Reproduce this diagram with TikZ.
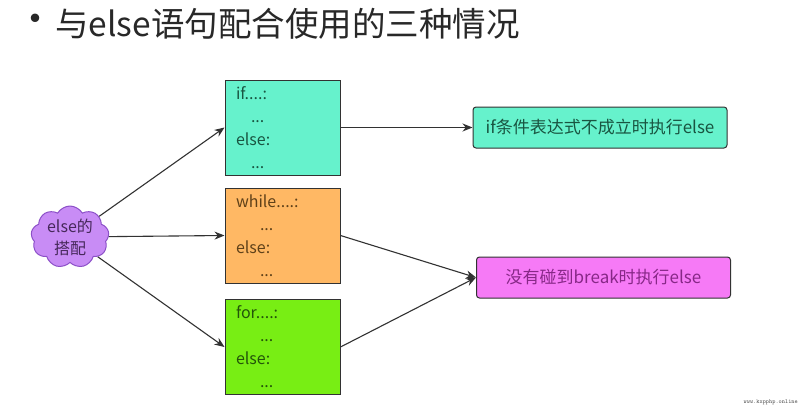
\documentclass[tikz,border=0pt]{standalone}
\usepackage{fontspec}
\setmainfont{Noto Sans CJK SC}
\usetikzlibrary{shapes.symbols,arrows.meta}
\definecolor{aqua}{RGB}{102,242,204}
\definecolor{orng}{RGB}{255,184,100}
\definecolor{grn}{RGB}{120,238,20}
\definecolor{mag}{RGB}{246,122,246}
\definecolor{cloudfill}{RGB}{200,140,245}
\definecolor{cloudline}{RGB}{140,80,200}
\definecolor{edge}{RGB}{50,50,50}
\definecolor{aquatext}{RGB}{25,85,65}
\definecolor{orngtext}{RGB}{95,65,25}
\definecolor{grntext}{RGB}{35,85,10}
\definecolor{magtext}{RGB}{135,40,135}
\definecolor{cloudtext}{RGB}{70,40,90}
\definecolor{titletext}{RGB}{40,40,40}
\tikzset{
  codebox/.style={draw=edge, line width=1pt, minimum width=115pt, minimum height=95pt,
    inner xsep=11pt, inner ysep=0pt, text width=93pt, align=left,
    font=\fontsize{16}{23}\selectfont},
  resbox/.style={draw=edge, line width=1pt, rounded corners=3pt, minimum width=254pt,
    minimum height=41pt, inner sep=0pt, font=\fontsize{17}{20}\selectfont},
  arr/.style={draw=edge, line width=1.1pt, -{Stealth[length=10pt,width=8pt]}},
}
\begin{document}
\begin{tikzpicture}[x=1pt,y=-1pt]
\useasboundingbox[fill=white] (0,0) rectangle (800,408);
% title
\node[text=titletext, font=\fontsize{40}{40}\selectfont, inner sep=0pt] (bul) at (36,24) {•};
\node[anchor=west, text=titletext, inner sep=0pt, font=\fontsize{33.5}{38}\selectfont] (title) at (55,24) {与else语句配合使用的三种情况};
% cloud
\node[cloud, cloud puffs=9, cloud puff arc=120, aspect=1.3, draw=cloudline, line width=1pt,
  fill=cloudfill, minimum width=78pt, minimum height=62pt, inner sep=0pt] (cl) at (70,237) {};
\node[align=center, text=cloudtext, inner sep=0pt, font=\fontsize{16}{22}\selectfont] (clt) at (70,237) {else的\\搭配};
% code boxes
\node[codebox, fill=aqua, text=aquatext] (b1) at (282.5,127.5) {if....:\\\hspace*{15pt}...\\else:\\\hspace*{15pt}...};
\node[codebox, fill=orng, text=orngtext] (b2) at (282.5,235.5) {while....:\\\hspace*{24pt}...\\else:\\\hspace*{24pt}...};
\node[codebox, fill=grn, text=grntext] (b3) at (282.5,347) {for....:\\\hspace*{24pt}...\\else:\\\hspace*{24pt}...};
% result boxes
\node[resbox, fill=aqua, text=aquatext] (r1) at (600,127.5) {if条件表达式不成立时执行else};
\node[resbox, fill=mag, text=magtext] (r2) at (603.5,277.5) {没有碰到break时执行else};
% arrows
\draw[arr] (cl) -- (b1.west);
\draw[arr] (cl) -- (b2.west);
\draw[arr] (cl) -- (b3.west);
\draw[arr] (b1.east) -- (r1.west);
\draw[arr] (b2.east) -- (r2.west);
\draw[arr] (b3.east) -- (r2.west);
% watermark
\node[anchor=east, text=black!70, font=\ttfamily\fontsize{6}{7}\selectfont, inner sep=0pt] (wm) at (798,402) {www.kxpphp.online};
\end{tikzpicture}
\end{document}
